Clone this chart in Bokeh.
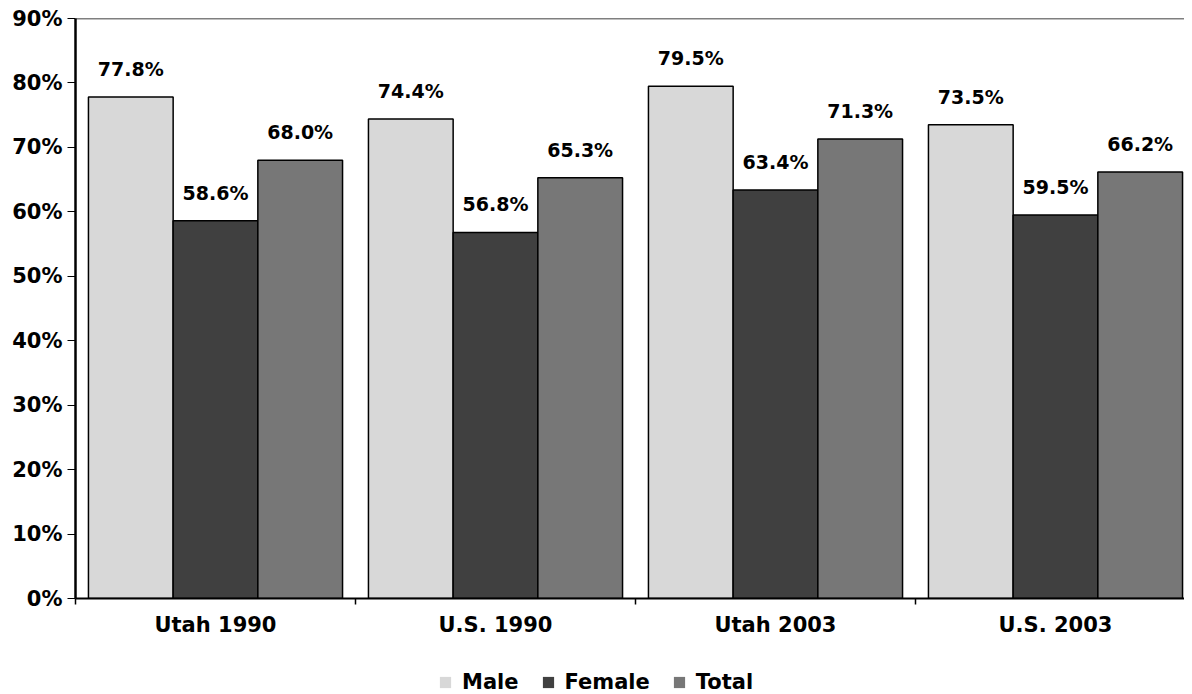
from bokeh.plotting import figure
from bokeh.layouts import column
from bokeh.models import Range1d, FixedTicker, PrintfTickFormatter, Span, LabelSet, ColumnDataSource
from bokeh.core.properties import value
from bokeh.embed import file_html
from bokeh.resources import INLINE

categories = ["Utah 1990", "U.S. 1990", "Utah 2003", "U.S. 2003"]
series = ["Male", "Female", "Total"]
male = [77.8, 74.4, 79.5, 73.5]
female = [58.6, 56.8, 63.4, 59.5]
total = [68.0, 65.3, 71.3, 66.2]
y_ticks = [0, 10, 20, 30, 40, 50, 60, 70, 80, 90]

colors = ["#d8d8d8", "#404040", "#777777"]
FONT = "DejaVu Sans"

W, H = 1184, 645
left, top, bottom = 75, 18, 47
frame_w = W - left
cat_px = 280.0

p = figure(width=W, height=H, output_backend="svg", toolbar_location=None,
           min_border_left=left, min_border_right=0, min_border_top=top,
           min_border_bottom=bottom,
           x_range=Range1d(0, frame_w / cat_px), y_range=Range1d(0, 90))
p.outline_line_color = None
p.xgrid.visible = False
p.ygrid.visible = False
p.background_fill_color = "white"

# legend strip below the chart (its bars lie outside its visible y range)
p2 = figure(width=W, height=49, output_backend="svg", toolbar_location=None,
            min_border=0, x_range=p.x_range, y_range=Range1d(200, 201))
p2.outline_line_color = None
p2.axis.visible = False
p2.grid.visible = False

bar_w = 0.3025
offsets = [-bar_w, 0.0, bar_w]
for vals, name, col, off in zip([male, female, total], series, colors, offsets):
    xs = [i + 0.5 + off for i in range(len(categories))]
    src = ColumnDataSource(dict(x=xs, top=vals, lab=[f"{v:.1f}%" for v in vals]))
    p.vbar(x="x", top="top", width=bar_w, bottom=0, source=src,
           fill_color=col, line_color="black", line_width=1.5)
    p.add_layout(LabelSet(x="x", y="top", text="lab", source=src,
                          text_align="center", text_baseline="alphabetic",
                          y_offset=21, text_font=value(FONT), text_font_style="bold",
                          text_font_size="19px", text_color="black"))
    p2.vbar(x="x", top="top", width=bar_w, bottom=0, source=src,
            fill_color=col, line_color=None, legend_label=name)

p.add_layout(Span(location=90, dimension="width", line_color="black", line_width=1.5))

# y axis
ya = p.yaxis[0]
ya.ticker = FixedTicker(ticks=y_ticks)
ya.formatter = PrintfTickFormatter(format="%d%%")
ya.axis_line_width = 2.5
ya.major_tick_out = 8
ya.major_tick_in = 0
ya.minor_tick_line_color = None
ya.major_label_standoff = 5
ya.major_label_text_font = FONT
ya.major_label_text_font_style = "bold"
ya.major_label_text_font_size = "21px"
ya.major_label_text_color = "black"

# x axis
xa = p.xaxis[0]
xa.ticker = FixedTicker(ticks=[i + 0.5 for i in range(len(categories))],
                        minor_ticks=list(range(len(categories) + 1)))
xa.major_label_overrides = {i + 0.5: c for i, c in enumerate(categories)}
xa.axis_line_width = 2
xa.major_tick_line_color = None
xa.major_tick_out = 6
xa.major_tick_in = 0
xa.minor_tick_out = 6
xa.minor_tick_in = 0
xa.minor_tick_line_color = "black"
xa.minor_tick_line_width = 1.5
xa.major_label_standoff = 8
xa.major_label_text_font = FONT
xa.major_label_text_font_style = "bold"
xa.major_label_text_font_size = "21px"
xa.major_label_text_color = "black"

lg = p2.legend[0]
lg.orientation = "horizontal"
lg.location = (363, 0)
lg.border_line_color = None
lg.background_fill_alpha = 0
lg.padding = 0
lg.margin = 0
lg.spacing = 22
lg.glyph_width = 14
lg.glyph_height = 14
lg.label_standoff = 10
lg.label_height = 16
lg.label_text_font = FONT
lg.label_text_font_style = "bold"
lg.label_text_font_size = "21px"
lg.label_text_color = "black"

layout = column(p, p2, spacing=0)
open("out.html", "w").write(file_html(layout, INLINE))
